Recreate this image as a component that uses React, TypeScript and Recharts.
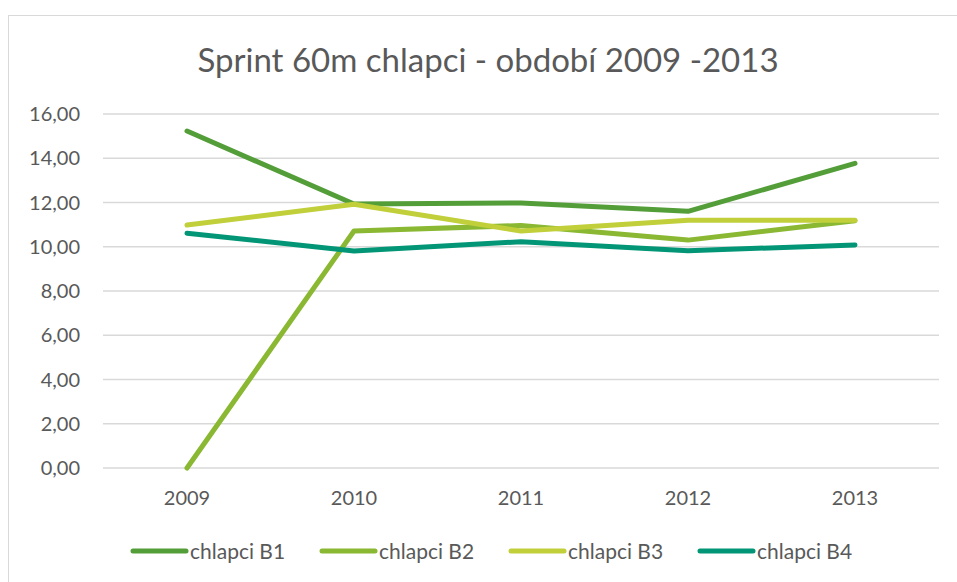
import { CartesianGrid, Legend, Line, LineChart, XAxis, YAxis } from "recharts";

const years = ["2009", "2010", "2011", "2012", "2013"];
const chlapciB1 = [15.23, 11.93, 11.98, 11.6, 13.77];
const chlapciB2 = [0, 10.71, 10.96, 10.3, 11.18];
const chlapciB3 = [10.98, 11.92, 10.71, 11.2, 11.2];
const chlapciB4 = [10.61, 9.81, 10.23, 9.82, 10.08];
const yTicks = [0, 2, 4, 6, 8, 10, 12, 14, 16];

const seriesNames = ["chlapci B1", "chlapci B2", "chlapci B3", "chlapci B4"];
const seriesColors = ["#549e39", "#8ab833", "#c0cf3a", "#029676"];

const data = years.map((year, i) => ({
  year,
  b1: chlapciB1[i],
  b2: chlapciB2[i],
  b3: chlapciB3[i],
  b4: chlapciB4[i]
}));

const FONT = "Lato, 'Open Sans', sans-serif";
const TEXT = "#595959";

function ChartLegend({ payload }: { payload?: Array<{ value: string; color: string }> }) {
  return (
    <div style={{ display: "flex", alignItems: "center", height: 24, fontFamily: FONT }}>
      {(payload ?? []).map((entry) => (
        <div key={entry.value} style={{ width: 189, display: "flex", alignItems: "center" }}>
          <svg width={60} height={10} style={{ display: "block" }}>
            <line x1={3} y1={5} x2={56} y2={5} stroke={entry.color} strokeWidth={5} strokeLinecap="round" />
          </svg>
          <span style={{ fontSize: 21, color: TEXT, lineHeight: "24px" }}>{entry.value}</span>
        </div>
      ))}
    </div>
  );
}

export default function App() {
  const keys = ["b1", "b2", "b3", "b4"];
  return (
    <div style={{ position: "absolute", left: 0, top: 0, width: 957, height: 582, overflow: "hidden", background: "#fff" }}>
      <div
        style={{
          position: "absolute",
          left: 8,
          top: 15,
          width: 1100,
          height: 700,
          border: "1.5px solid #d9d9d9",
          boxSizing: "border-box"
        }}
      />
      <div
        style={{
          position: "absolute",
          left: 0,
          top: 43,
          width: 976,
          textAlign: "center",
          fontFamily: FONT,
          fontSize: 33,
          lineHeight: "33px",
          color: TEXT
        }}
      >
        Sprint 60m chlapci - období 2009 -2013
      </div>
      <div style={{ position: "absolute", left: 0, top: 0 }}>
        <LineChart width={957} height={582} data={data} margin={{ top: 114, right: 18, left: 0, bottom: 30 }}>
          <CartesianGrid vertical={false} stroke="#d9d9d9" strokeWidth={1.5} />
          <XAxis
            dataKey="year"
            axisLine={false}
            tickLine={false}
            padding={{ left: 84, right: 84 }}
            tickMargin={17}
            height={60}
            tick={{ fill: TEXT, fontSize: 20, fontFamily: FONT }}
          />
          <YAxis
            domain={[0, 16]}
            ticks={yTicks}
            width={103}
            axisLine={false}
            tickLine={false}
            tickMargin={17}
            tickFormatter={(v: number) => v.toFixed(2).replace(".", ",")}
            tick={{ fill: TEXT, fontSize: 20, fontFamily: FONT }}
          />
          <Legend
            content={<ChartLegend />}
            wrapperStyle={{ left: 130, top: 539, width: 800, height: 24 }}
          />
          {keys.map((k, i) => (
            <Line
              key={k}
              type="linear"
              dataKey={k}
              name={seriesNames[i]}
              stroke={seriesColors[i]}
              strokeWidth={5}
              strokeLinecap="round"
              strokeLinejoin="round"
              dot={false}
              activeDot={false}
              isAnimationActive={false}
            />
          ))}
        </LineChart>
      </div>
    </div>
  );
}
